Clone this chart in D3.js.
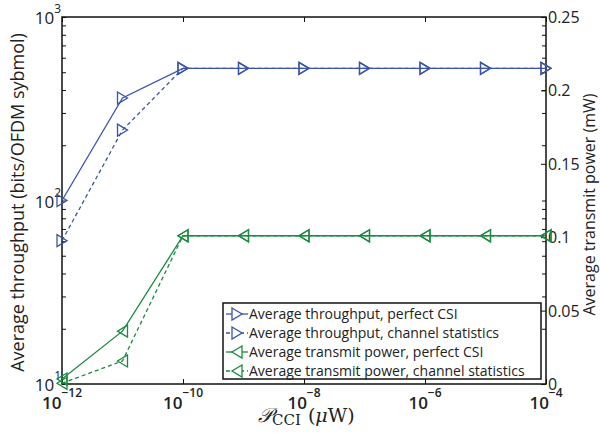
<!DOCTYPE html>
<html><head><meta charset="utf-8">
<script src="https://cdn.jsdelivr.net/npm/d3@7"></script>
<style>
body{margin:0;background:#fff;}
text{font-family:"Open Sans","Noto Sans",sans-serif;fill:#222;}
</style></head>
<body><svg id="c" width="600" height="433"></svg>
<script>
const xValues = [1e-12, 1e-11, 1e-10, 1e-9, 1e-8, 1e-7, 1e-6, 1e-5, 1e-4];
const thrPerfect = [100, 362, 525, 525, 525, 525, 525, 525, 525];
const thrStats = [60.4, 242, 525, 525, 525, 525, 525, 525, 525];
const powPerfect = [0.0034, 0.036, 0.101, 0.101, 0.101, 0.101, 0.101, 0.101, 0.101];
const powStats = [0.0005, 0.0157, 0.101, 0.101, 0.101, 0.101, 0.101, 0.101, 0.101];
const xTickExps = [-12, -10, -8, -6, -4];
const yLeftExps = [1, 2, 3];
const yRightTicks = [0, 0.05, 0.1, 0.15, 0.2, 0.25];
const legendLabels = ["Average throughput, perfect CSI","Average throughput, channel statistics","Average transmit power, perfect CSI","Average transmit power, channel statistics"];

const blue = "#3a55a8", green = "#1a8a40";
const L = 62, R = 546, T = 17, B = 384;
const svg = d3.select("#c");
const x = d3.scaleLog().domain([1e-12, 1e-4]).range([L, R]);
const yL = d3.scaleLog().domain([10, 1000]).range([B, T]);
const yR = d3.scaleLinear().domain([0, 0.25]).range([B, T]);

const leftTickVals = [];
for (let d = 10; d < 1000; d *= 10) for (let k = 1; k < 10; k++) leftTickVals.push(d * k);
leftTickVals.push(1000);

const axStyle = g => { g.select(".domain").remove(); g.selectAll("line").attr("stroke", "#111").attr("stroke-width", 1); g.selectAll("text").remove(); };

// ticks
svg.append("g").attr("transform", `translate(0,${B})`).call(d3.axisBottom(x).tickValues(xTickExps.map(e => Math.pow(10, e))).tickSize(-5)).call(axStyle);
svg.append("g").attr("transform", `translate(0,${T})`).call(d3.axisTop(x).tickValues(xTickExps.map(e => Math.pow(10, e))).tickSize(-5)).call(axStyle);
svg.append("g").attr("transform", `translate(${L},0)`).call(d3.axisLeft(yL).tickValues(leftTickVals).tickSize(-4)).call(axStyle);
svg.append("g").attr("transform", `translate(${R},0)`).call(d3.axisRight(yL).tickValues(leftTickVals).tickSize(-4)).call(axStyle);
svg.append("g").attr("transform", `translate(${R},0)`).call(d3.axisRight(yR).tickValues(yRightTicks).tickSize(-5)).call(axStyle);

// frame
svg.append("rect").attr("x", L).attr("y", T).attr("width", R - L).attr("height", B - T).attr("fill", "none").attr("stroke", "#111").attr("stroke-width", 1.5);

// tick labels
xTickExps.forEach(e => {
  const t = svg.append("text").attr("x", x(Math.pow(10, e))).attr("y", 409).attr("text-anchor", "middle").style("font-weight", "600");
  t.append("tspan").attr("font-size", 17).text("10");
  t.append("tspan").attr("font-size", 12).attr("dy", -12).text("\u2212" + Math.abs(e));
});
yLeftExps.forEach(e => {
  const t = svg.append("text").attr("x", L - 1).attr("y", yL(Math.pow(10, e)) + 7).attr("text-anchor", "end");
  t.append("tspan").attr("font-size", 17).text("10");
  t.append("tspan").attr("font-size", 12).attr("dy", -11).text(e);
});
yRightTicks.forEach(v => {
  svg.append("text").attr("x", R + 2).attr("y", yR(v) + 6).attr("font-size", 16).text(v);
});

// axis titles
svg.append("text").attr("transform", `translate(24,${(T + B) / 2 + 2}) rotate(-90)`).attr("text-anchor", "middle").attr("font-size", 18).text("Average throughput (bits/OFDM sybmol)");
svg.append("text").attr("transform", `translate(595,${(T + B) / 2 + 4}) rotate(-90)`).attr("text-anchor", "middle").attr("font-size", 16).text("Average transmit power (mW)");
const xt = svg.append("text").attr("x", 258).attr("y", 422).style("font-family", "'DejaVu Serif','Liberation Serif',serif");
xt.append("tspan").attr("font-size", 20).attr("font-style", "italic").text("\u{1D4AB}");
xt.append("tspan").attr("font-size", 15).attr("dy", 3).text("CCI");
xt.append("tspan").attr("font-size", 19).attr("dy", -3).attr("dx", 7).text("(");
xt.append("tspan").attr("font-size", 19).attr("font-style", "italic").text("\u03BC");
xt.append("tspan").attr("font-size", 19).text("W)");

// markers
const triRight = "M-5,-6L5,0L-5,6Z";
const triLeft = "M5,-6L-5,0L5,6Z";

const series = [
  {vals: thrPerfect, y: yL, color: blue, dash: null, marker: triRight},
  {vals: thrStats, y: yL, color: blue, dash: "4,3", marker: triRight},
  {vals: powPerfect, y: yR, color: green, dash: null, marker: triLeft},
  {vals: powStats, y: yR, color: green, dash: "4,3", marker: triLeft}
];
series.forEach(s => {
  const line = d3.line().x((d, i) => x(xValues[i])).y(d => s.y(d));
  svg.append("path").attr("d", line(s.vals)).attr("fill", "none").attr("stroke", s.color).attr("stroke-width", 1.3).attr("stroke-dasharray", s.dash);
  svg.selectAll(null).data(s.vals).enter().append("path")
    .attr("transform", (d, i) => `translate(${x(xValues[i])},${s.y(d)})`)
    .attr("d", s.marker).attr("fill", "none").attr("stroke", s.color).attr("stroke-width", 1.3);
});

// legend
const lg = svg.append("g");
lg.append("rect").attr("x", 223).attr("y", 303).attr("width", 318).attr("height", 76).attr("fill", "#fff").attr("stroke", "#111").attr("stroke-width", 1.5);
series.forEach((s, i) => {
  const yy = 314 + i * 19;
  lg.append("line").attr("x1", 226).attr("x2", 248).attr("y1", yy).attr("y2", yy).attr("stroke", s.color).attr("stroke-width", 1.3).attr("stroke-dasharray", s.dash);
  lg.append("path").attr("transform", `translate(237,${yy})`).attr("d", s.marker).attr("fill", "#fff").attr("stroke", s.color).attr("stroke-width", 1.3);
  lg.append("text").attr("x", 249).attr("y", yy + 5).attr("font-size", 14).text(legendLabels[i]);
});
</script></body></html>
